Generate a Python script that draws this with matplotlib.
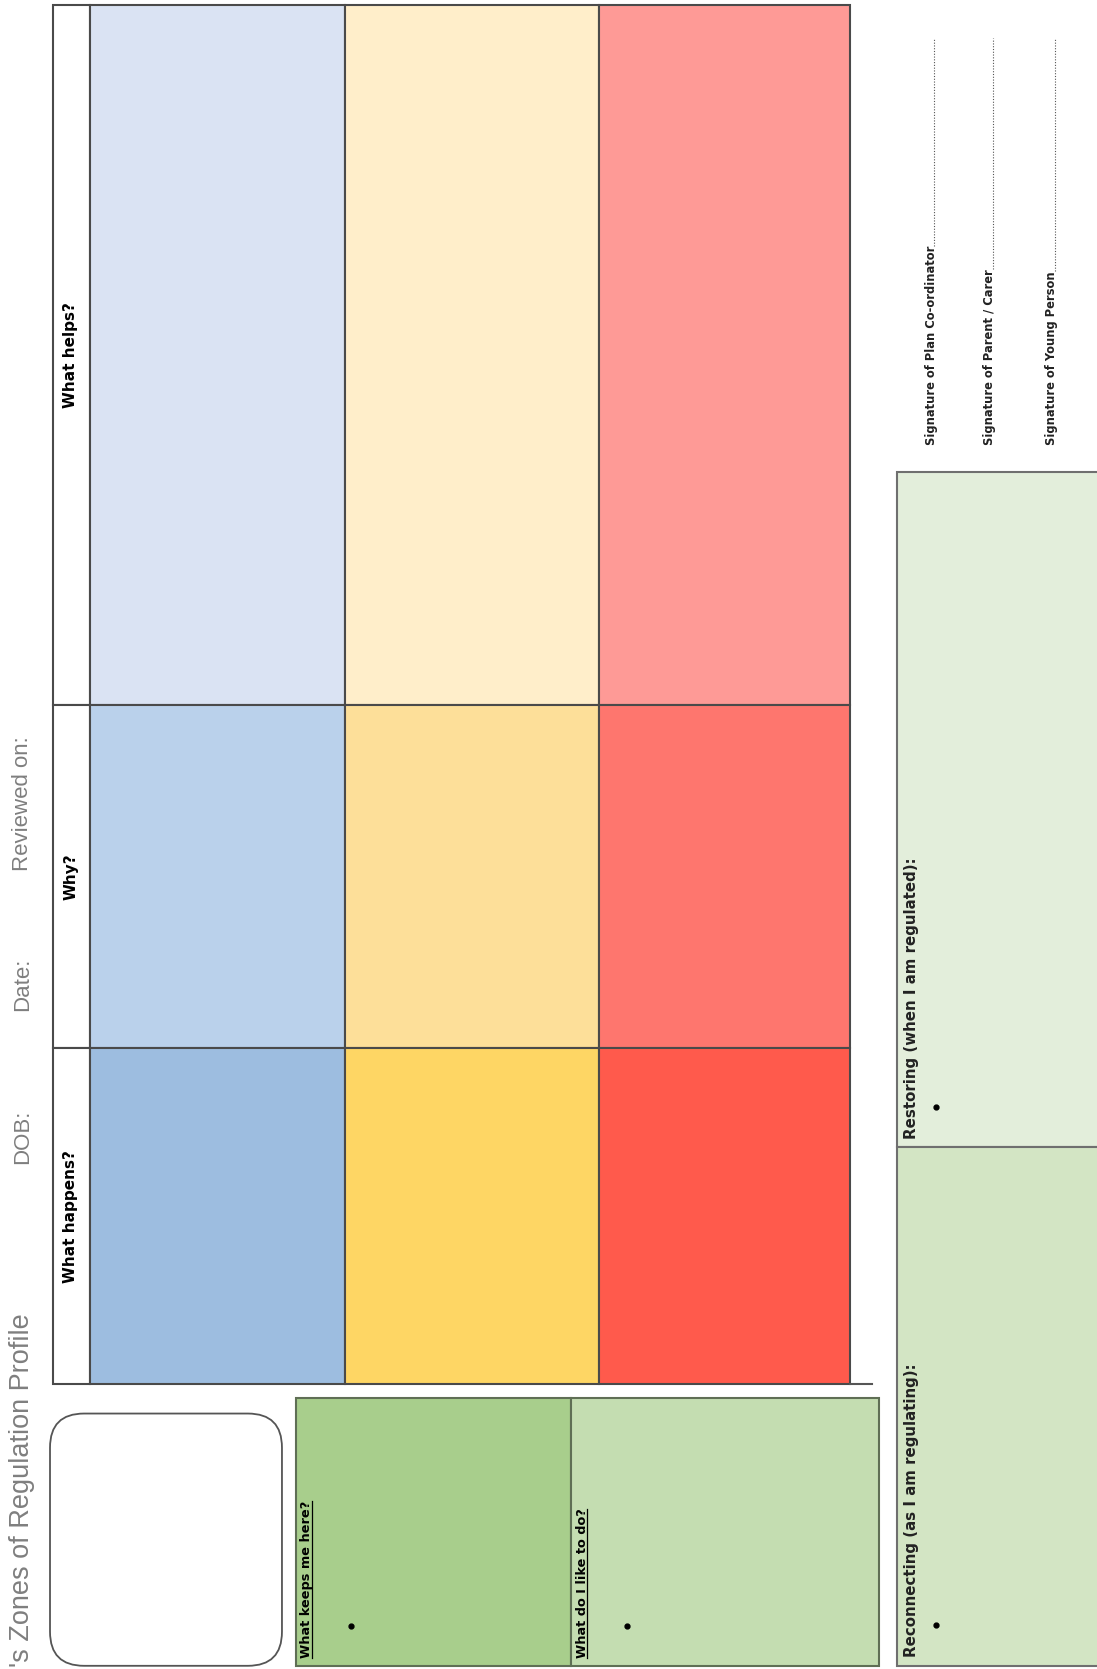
import matplotlib.pyplot as plt
from matplotlib.patches import Rectangle, FancyBboxPatch

# form content
title = "'s Zones of Regulation Profile"
meta_labels = ['DOB:', 'Date:', 'Reviewed on:']
questions = ['What helps?', 'Why?', 'What happens?']
blue_shades = ['#DAE3F3', '#BAD1EB', '#9DBDE0']
yellow_shades = ['#FFEECA', '#FDDF99', '#FED664']
red_shades = ['#FE9A96', '#FE766E', '#FF5A4C']
green_labels = ['What keeps me here?', 'What do I like to do?']
green_shades = ['#A8CE8C', '#C4DDB1']
restore_labels = ['Restoring (when I am regulated):', 'Reconnecting (as I am regulating):']
restore_shades = ['#E3EEDB', '#D3E5C4']
signatures = ['Signature of Plan Co-ordinator', 'Signature of Parent / Carer',
              'Signature of Young Person']

# page layout (page units, y runs down)
W, H = 1031, 1568
col_edges = [50, 85, 324, 563, 799]
row_edges = [5, 662, 985, 1300]
meta_y = [1068, 925, 755]
green_x = [278, 537, 826]
green_y = [1313, 1565]
restore_x = [843, 1040]
restore_y = [443, 1078, 1565]
sig_x = [875, 930, 988]

narrow = ['Liberation Sans Narrow', 'DejaVu Sans']
edge = '#4a4a4a'

fig = plt.figure(figsize=(10.97, 16.69), dpi=100)
ax = fig.add_axes([0, 0, 1, 1])
ax.set_xlim(0, W)
ax.set_ylim(H, 0)
ax.axis('off')

# header column
for i, q in enumerate(questions):
    y0, y1 = row_edges[i], row_edges[i + 1]
    ax.add_patch(Rectangle((col_edges[0], y0), col_edges[1] - col_edges[0], y1 - y0,
                           facecolor='white', edgecolor=edge, lw=1.5))
    ax.text((col_edges[0] + col_edges[1]) / 2 - 1, (y0 + y1) / 2, q, rotation=90,
            ha='center', va='center', fontsize=11, fontweight='bold', family=narrow)

# zone cells
for j, shades in enumerate([blue_shades, yellow_shades, red_shades]):
    x0, x1 = col_edges[j + 1], col_edges[j + 2]
    for i, c in enumerate(shades):
        y0, y1 = row_edges[i], row_edges[i + 1]
        ax.add_patch(Rectangle((x0, y0), x1 - x0, y1 - y0, facecolor=c,
                               edgecolor=edge, lw=1.5))
ax.plot([col_edges[-1], col_edges[-1] + 21], [row_edges[-1], row_edges[-1]],
        color='#555555', lw=1.5)

# title strip
ax.text(21, 1566, title, rotation=90, ha='center', va='bottom', fontsize=19.5,
        color='#7f7f7f', family=['Liberation Sans', 'DejaVu Sans'])
for lab, y in zip(meta_labels, meta_y):
    ax.text(21, y, lab, rotation=90, ha='center', va='center', fontsize=16,
            color='#7f7f7f', family=['Liberation Sans', 'DejaVu Sans'])

# photo box
ax.add_patch(FancyBboxPatch((47, 1328), 218, 237,
                            boxstyle='round,pad=0,rounding_size=32',
                            facecolor='white', edgecolor='#555555', lw=1.3))

# green boxes
underline_texts = []
for k, (lab, c) in enumerate(zip(green_labels, green_shades)):
    x0, x1 = green_x[k], green_x[k + 1]
    ax.add_patch(Rectangle((x0, green_y[0]), x1 - x0, green_y[1] - green_y[0],
                           facecolor=c, edgecolor='#5f6f55', lw=1.5))
    t = ax.text(x0 + 10, green_y[1] - 7, lab, rotation=90, ha='center', va='bottom',
                fontsize=9.3, fontweight='bold', family=narrow)
    underline_texts.append(t)
    ax.plot(x0 + 52, green_y[1] - 37, 'o', color='black', ms=3.5)

# restoring / reconnecting boxes
for k, (lab, c) in enumerate(zip(restore_labels, restore_shades)):
    y0, y1 = restore_y[k], restore_y[k + 1]
    ax.add_patch(Rectangle((restore_x[0], y0), restore_x[1] - restore_x[0], y1 - y0,
                           facecolor=c, edgecolor='#6f6f6f', lw=1.5))
    ax.text(restore_x[0] + 14, y1 - 8, lab, rotation=90, ha='center', va='bottom',
            fontsize=10.8, fontweight='bold', family=narrow, color='#222222')
    ax.plot(restore_x[0] + 37, y1 - 38, 'o', color='black', ms=3.5)

# signature lines
sig_texts = []
for lab, x in zip(signatures, sig_x):
    t = ax.text(x, 418, lab, rotation=90, ha='center', va='bottom', fontsize=8.3,
                fontweight='bold', family=narrow, color='#222222')
    sig_texts.append(t)

fig.canvas.draw()
inv = ax.transData.inverted()
r = fig.canvas.get_renderer()
for t in underline_texts:
    bb = t.get_window_extent(r)
    (xa, ya), (xb, yb) = inv.transform([[bb.x0, bb.y0], [bb.x1, bb.y1]])
    ax.plot([xb - 1, xb - 1], [ya, yb], color='black', lw=0.9)
for t in sig_texts:
    bb = t.get_window_extent(r)
    (xa, ya), (xb, yb) = inv.transform([[bb.x0, bb.y0], [bb.x1, bb.y1]])
    ax.plot([xb - 3, xb - 3], [yb, 36], color='#555555', lw=0.8, ls=(0, (1, 1.5)))

fig.savefig('out.png', dpi=100, facecolor='white')
